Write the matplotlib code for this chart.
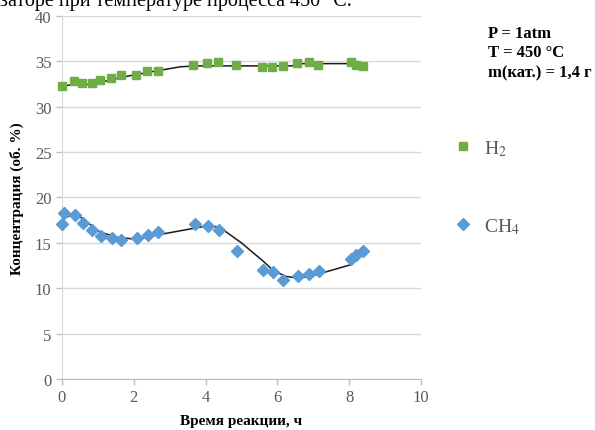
import numpy as np
import matplotlib
matplotlib.use("Agg")
import matplotlib.pyplot as plt
from matplotlib.lines import Line2D

# ---------------------------------------------------------------------------
# Data
# ---------------------------------------------------------------------------
h2_t = [0.0, 0.33, 0.55, 0.83, 1.06, 1.36, 1.64, 2.06, 2.36, 2.68,
        3.66, 4.05, 4.35, 4.85, 5.58, 5.84, 6.15, 6.56, 6.89, 7.14,
        8.05, 8.19, 8.38]
h2_c = [32.3, 32.8, 32.6, 32.6, 32.9, 33.2, 33.5, 33.5, 33.9, 33.9,
        34.6, 34.8, 34.9, 34.6, 34.4, 34.4, 34.5, 34.8, 34.9, 34.6,
        34.9, 34.6, 34.5]

h2_fit_t = [0.0, 0.5, 0.9, 1.5, 2.0, 2.7, 3.3, 3.7, 6.4, 6.6, 8.0, 8.4]
h2_fit_c = [32.35, 32.4, 32.5, 33.1, 33.5, 34.0, 34.4, 34.5, 34.5, 34.75, 34.75, 34.55]

ch4_t = [0.0, 0.06, 0.36, 0.59, 0.85, 1.1, 1.4, 1.66, 2.08, 2.39,
         2.69, 3.7, 4.08, 4.37, 4.87, 5.59, 5.87, 6.16, 6.58, 6.89,
         7.16, 8.04, 8.19, 8.39]
ch4_c = [17.1, 18.3, 18.1, 17.2, 16.4, 15.8, 15.5, 15.3, 15.5, 15.9,
         16.2, 17.1, 16.9, 16.4, 14.15, 12.0, 11.8, 10.95, 11.3, 11.6,
         11.9, 13.2, 13.7, 14.1]

ch4_fit_t = [0.02, 0.36, 0.7, 1.06, 1.55, 2.08, 2.7, 4.08, 4.4, 5.0,
             5.6, 5.9, 6.25, 6.6, 7.0, 8.05, 8.4]
ch4_fit_c = [17.6, 18.3, 17.3, 16.2, 15.6, 15.4, 15.9, 16.9, 16.7, 15.0,
             13.0, 11.9, 11.3, 11.1, 11.4, 12.6, 14.0]

x_ticks = [0, 2, 4, 6, 8, 10]
y_ticks = [0, 5, 10, 15, 20, 25, 30, 35, 40]

# ---------------------------------------------------------------------------
# Figure
# ---------------------------------------------------------------------------
plt.rcParams['font.family'] = ['Liberation Serif', 'DejaVu Serif']
plt.rcParams['mathtext.fontset'] = 'stix'

fig = plt.figure(figsize=(5.95, 4.31), dpi=100)
ax = fig.add_axes([0.104, 0.1183, 0.6036, 0.8423])

grey = '#595959'
ax.set_xlim(0, 10)
ax.set_ylim(0, 40)
ax.set_xticks(x_ticks)
ax.set_yticks(y_ticks)
ax.grid(axis='y', color='#d9d9d9', linewidth=1.0)
ax.set_axisbelow(True)
for side in ('top', 'right'):
    ax.spines[side].set_visible(False)
ax.spines['left'].set_color('#d9d9d9')
ax.spines['bottom'].set_color('#bfbfbf')
ax.tick_params(axis='both', colors='#bfbfbf', labelcolor=grey,
               labelsize=12, length=4, width=1)

green = '#70ad47'
blue = '#5b9bd5'
ax.plot(h2_fit_t, h2_fit_c, color='#1a1a1a', linewidth=1.1, zorder=2)
ax.plot(ch4_fit_t, ch4_fit_c, color='#1a1a1a', linewidth=1.1, zorder=2)
ax.plot(h2_t, h2_c, 's', color=green, markersize=6, zorder=3,
        clip_on=False)
ax.plot(ch4_t, ch4_c, 'D', color=blue, markersize=6, zorder=3,
        clip_on=False)

ax.set_xlabel('Время реакции, ч', fontsize=11, fontweight='bold',
              labelpad=6)
ax.set_ylabel('Концентрация (об. %)', fontsize=11, fontweight='bold',
              labelpad=8)

# Legend
handles = [Line2D([], [], marker='s', color=green, linestyle='none',
                  markersize=6),
           Line2D([], [], marker='D', color=blue, linestyle='none',
                  markersize=6)]
leg = fig.legend(handles, ['H$_2$', 'CH$_4$'], loc='upper left',
                 bbox_to_anchor=(0.732, 0.718), frameon=False,
                 fontsize=14, labelspacing=3.0, handletextpad=0.6,
                 handlelength=1.0)
for t in leg.get_texts():
    t.set_color(grey)

# Process conditions
fig.text(0.82, 0.94, 'P = 1atm\nT = 450 °C\nm(кат.) = 1,4 г',
         fontsize=12, fontweight='bold', va='top', ha='left',
         linespacing=1.3)

# Clipped text line from the surrounding document
fig.text(0.0, 1 - 6 / 431, 'заторе при температуре процесса 450 °C.',
         fontsize=14.5, va='baseline', ha='left')

fig.savefig('out.png', dpi=100, facecolor='white')
